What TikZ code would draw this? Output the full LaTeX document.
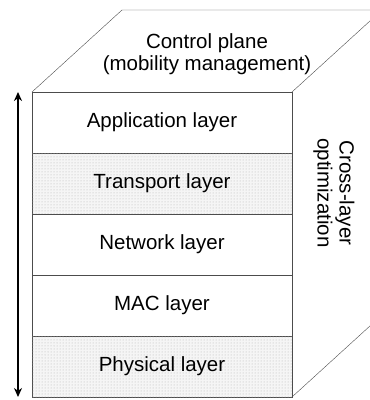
\documentclass[tikz,border=0pt]{standalone}
\usepackage{fontspec}
\setmainfont{Liberation Sans}
\usepackage{tikz}
\usetikzlibrary{positioning,patterns,arrows.meta}
\tikzset{layer/.style={rectangle, minimum width=260pt, minimum height=61pt, inner sep=0pt, outer sep=0pt, text centered, draw=black!70, fill=white, font=\fontsize{20.5}{22}\selectfont},
dotted-layer/.style={layer, fill=black!4, postaction={pattern=dots, pattern color=black!30}},
label-text/.style={align=center, font=\fontsize{20.5}{22}\selectfont},
edge/.style={draw=black!70, thin},
arrow/.style={line width=2pt,{Stealth[length=9pt,width=8pt]}-{Stealth[length=9pt,width=8pt]}}}

\begin{document}
\begin{tikzpicture}[x=1pt, y=-1pt, node distance=0pt]
\useasboundingbox (0,0) rectangle (370,400);
\clip (0,0) rectangle (370,400);
% the five layers
\node (app) [layer, anchor=north west] at (32,92) {Application layer};
\node (trans) [dotted-layer, below=of app] {Transport layer};
\node (net) [layer, below=of trans] {Network layer};
\node (mac) [layer, below=of net] {MAC layer};
\node (phy) [dotted-layer, below=of mac] {Physical layer};
% top and side faces
\draw [edge] (app.north west) -- ++(90,-82) -- ++(260,0) -- ++(0,305) -- (phy.south east);
\draw [edge] (app.north east) -- ++(90,-82);
\node (ctrl) [label-text] at (207,54) {Control plane\\(mobility management)};
\node (cross) [label-text, rotate=-90] at (334,193) {Cross-layer\\optimization};
% up-down arrow
\coordinate (atop) at ([xshift=-14pt]app.north west);
\coordinate (abot) at ([xshift=-14pt]phy.south west);
\draw [arrow] (atop) -- (abot);
\end{tikzpicture}
\end{document}
